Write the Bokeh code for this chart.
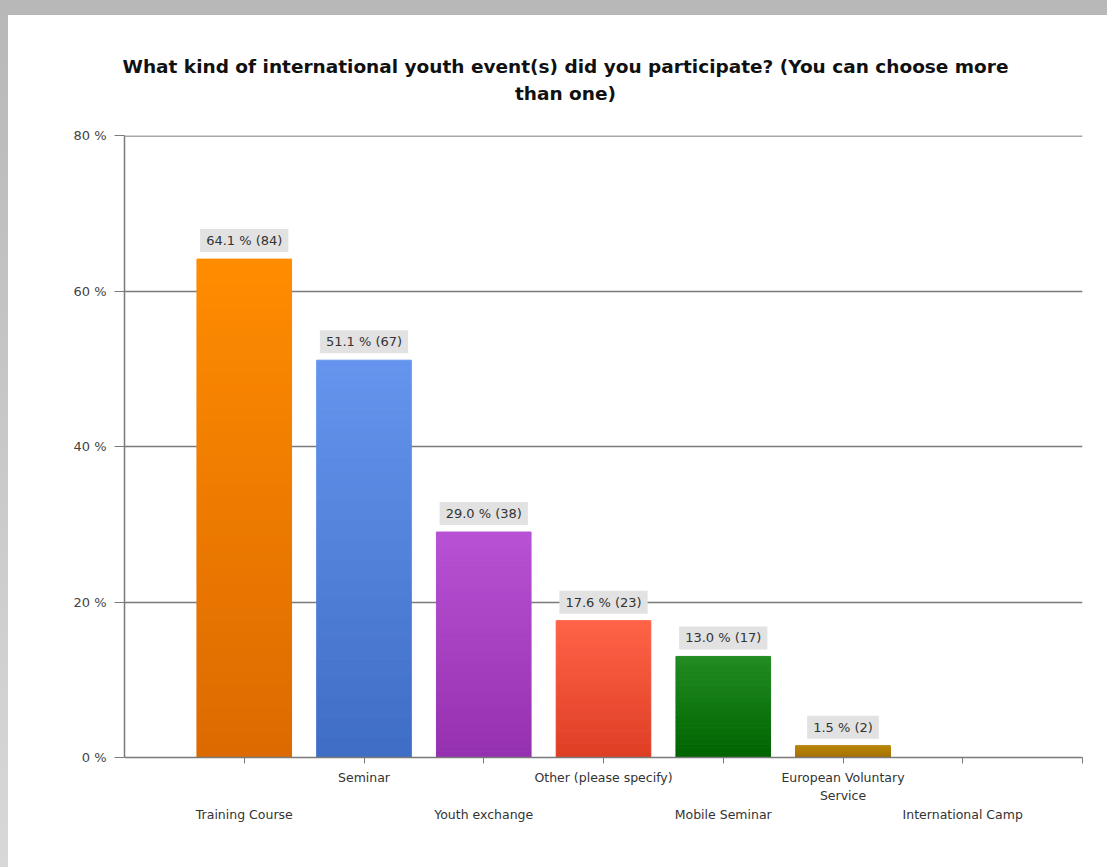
from bokeh.plotting import figure
from bokeh.models import (ColumnDataSource, FixedTicker, PrintfTickFormatter,
                          Range1d, Title, Span)
from bokeh.core.properties import value
from bokeh.layouts import column
from bokeh.embed import file_html
from bokeh.resources import INLINE

# ---- data ----
categories = ["Training Course", "Seminar", "Youth exchange", "Other (please specify)",
              "Mobile Seminar", "European Voluntary Service", "International Camp"]
percent = [64.1, 51.1, 29.0, 17.6, 13.0, 1.5, 0.0]
counts = [84, 67, 38, 23, 17, 2, 0]
top_colors = ["#ff8c00", "#6495ed", "#b852d4", "#ff6347", "#228b22", "#b8860b", "#b0b0b0"]
bottom_colors = ["#dc6a00", "#3f6dc6", "#9530b0", "#de3e24", "#006400", "#a47000", "#b0b0b0"]
y_ticks = [0, 20, 40, 60, 80]
title_text = "What kind of international youth event(s) did you participate? (You can choose more\nthan one)"

FONT = "DejaVu Sans"


def hex2rgb(h):
    h = h.lstrip("#")
    return tuple(int(h[i:i + 2], 16) for i in (0, 2, 4))


def mix(c1, c2, t):
    a, b = hex2rgb(c1), hex2rgb(c2)
    return "#%02x%02x%02x" % tuple(int(round(a[k] + (b[k] - a[k]) * t)) for k in range(3))


p = figure(width=1099, height=852, output_backend="svg", toolbar_location=None,
           x_range=Range1d(0, 8), y_range=Range1d(0, 80),
           min_border_left=116, min_border_right=25, min_border_top=120, min_border_bottom=110,
           background_fill_color="white", border_fill_color="white", outline_line_color=None)
p.margin = (15, 0, 0, 8)
p.styles = {"background-color": "white"}

p.title = Title(text=title_text, align="left", offset=-2, text_align="center",
                text_font=FONT, text_font_size="18.5px", text_font_style="bold",
                text_color="#111111", standoff=63, text_line_height=1.3)

# top gridline
p.add_layout(Span(location=y_ticks[-1], dimension="width", line_color="#a8a8a8", line_width=3))

# gradient bars built as stacked bands from the data values
N = 40
xs, bots, tops, cols = [], [], [], []
for i, v in enumerate(percent):
    if v <= 0:
        continue
    for k in range(N):
        f0, f1 = k / N, (k + 1) / N
        xs.append(i + 1)
        bots.append(v * f0)
        tops.append(v * f1)
        cols.append(mix(bottom_colors[i], top_colors[i], (f0 + f1) / 2))
band_src = ColumnDataSource(dict(x=xs, bottom=bots, top=tops, color=cols))
p.vbar(x="x", bottom="bottom", top="top", width=0.79, fill_color="color",
       line_color="color", line_width=1, source=band_src)

# labels
lab_x, lab_y, lab_t = [], [], []
for i, (v, c) in enumerate(zip(percent, counts)):
    if v <= 0:
        continue
    lab_x.append(i + 1)
    lab_y.append(v)
    lab_t.append("%.1f %% (%d)" % (v, c))
lab_src = ColumnDataSource(dict(x=lab_x, y=lab_y, t=lab_t))
p.text(x="x", y="y", text="t", source=lab_src, text_align="center",
       text_baseline="bottom", y_offset=-7, text_font=value(FONT), text_font_size="13px",
       text_color="#333333", background_fill_color="#e2e2e2",
       border_line_color=None, padding=(6, 4))

# grid
p.xgrid.grid_line_color = None
p.ygrid.ticker = FixedTicker(ticks=y_ticks[1:])
p.ygrid.grid_line_color = "#7a7a7a"
p.ygrid.grid_line_width = 1.5

# y axis
p.yaxis.ticker = FixedTicker(ticks=y_ticks)
p.yaxis.formatter = PrintfTickFormatter(format="%d %%")
p.yaxis.axis_line_color = "#7a7a7a"
p.yaxis.axis_line_width = 1.5
p.yaxis.major_tick_line_color = "#7a7a7a"
p.yaxis.major_tick_out = 10
p.yaxis.major_tick_in = 0
p.yaxis.minor_tick_line_color = None
p.yaxis.major_label_text_font = FONT
p.yaxis.major_label_text_font_size = "13px"
p.yaxis.major_label_text_color = "#444444"
p.yaxis.major_label_standoff = 8

# x axis with staggered labels
overrides = {}
for i, c in enumerate(categories):
    txt = c if c != "European Voluntary Service" else "European Voluntary\nService"
    if i % 2 == 0:
        txt = "\n\n" + txt
    overrides[i + 1] = txt
overrides[8] = ""
p.xaxis.ticker = FixedTicker(ticks=list(range(1, 9)))
p.xaxis.major_label_overrides = overrides
p.xaxis.axis_line_color = "#7a7a7a"
p.xaxis.axis_line_width = 1.5
p.xaxis.major_tick_line_color = "#7a7a7a"
p.xaxis.major_tick_out = 6
p.xaxis.major_tick_in = 0
p.xaxis.minor_tick_line_color = None
p.xaxis.major_label_text_font = FONT
p.xaxis.major_label_text_font_size = "12.5px"
p.xaxis.major_label_text_color = "#333333"
p.xaxis.major_label_standoff = 6
p.xaxis.major_label_text_line_height = 1.25

layout = column(p, styles={"background": "linear-gradient(#b8b8b8, #d8d8d8)"})
open("out.html", "w").write(file_html(layout, INLINE))
